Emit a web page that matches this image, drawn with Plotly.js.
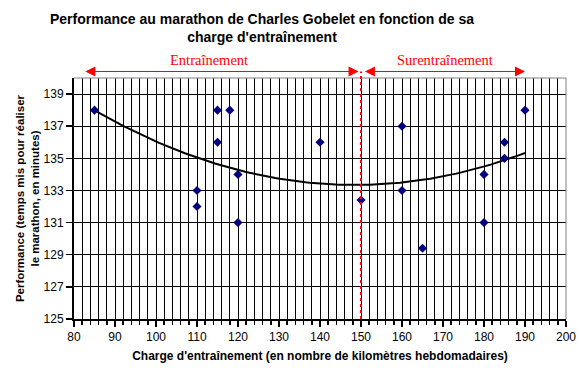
<!DOCTYPE html>
<html>
<head>
<meta charset="utf-8">
<script src="https://cdn.plot.ly/plotly-3.0.1.min.js"></script>
<style>html,body{margin:0;padding:0;background:#fff;}#chart{width:581px;height:377px;}</style>
</head>
<body>
<div id="chart"></div>
<script>
// Data
const chargeKm = [85, 110, 110, 115, 115, 118, 120, 120, 140, 150, 160, 160, 165, 180, 180, 185, 185, 190];
const performanceMin = [138, 133, 132, 138, 136, 138, 134, 131, 136, 132.4, 137, 133, 129.4, 134, 131, 136, 135, 138];
const xTickValues = [80, 90, 100, 110, 120, 130, 140, 150, 160, 170, 180, 190, 200];
const yTickValues = [125, 127, 129, 131, 133, 135, 137, 139];
const seuilKm = 150;
const zoneLabels = ["Entraînement", "Surentraînement"];
const chartTitle = "Performance au marathon de Charles Gobelet en fonction de sa<br>charge d'entraînement";

// Polynomial (order 2) least-squares trendline computed from the data
function quadFit(xs, ys) {
  let s = [0,0,0,0,0], t = [0,0,0];
  for (let i = 0; i < xs.length; i++) {
    let p = 1;
    for (let k = 0; k < 5; k++) { s[k] += p; if (k < 3) t[k] += p * ys[i]; p *= xs[i]; }
  }
  const A = [[s[0],s[1],s[2],t[0]],[s[1],s[2],s[3],t[1]],[s[2],s[3],s[4],t[2]]];
  for (let c = 0; c < 3; c++) {
    for (let r = c + 1; r < 3; r++) {
      const f = A[r][c] / A[c][c];
      for (let k = c; k < 4; k++) A[r][k] -= f * A[c][k];
    }
  }
  const b = [0,0,0];
  for (let r = 2; r >= 0; r--) {
    let v = A[r][3];
    for (let k = r + 1; k < 3; k++) v -= A[r][k] * b[k];
    b[r] = v / A[r][r];
  }
  return b;
}
const coef = quadFit(chargeKm, performanceMin);
const xMin = Math.min(...chargeKm), xMax = Math.max(...chargeKm);
const trendX = [], trendY = [];
for (let i = 0; i <= 100; i++) {
  const x = xMin + (xMax - xMin) * i / 100;
  trendX.push(x);
  trendY.push(coef[0] + coef[1] * x + coef[2] * x * x);
}

const traces = [
  {x: trendX, y: trendY, mode: 'lines', line: {color: '#000000', width: 2}, hoverinfo: 'skip', cliponaxis: false},
  {x: chargeKm, y: performanceMin, mode: 'markers', marker: {symbol: 'diamond', color: '#000080', size: 7}, cliponaxis: false}
];

const red = '#ff0000';
const arrowY = 1.027;
const layout = {
  width: 581, height: 377,
  margin: {l: 74, r: 15, t: 78, b: 58},
  paper_bgcolor: '#ffffff', plot_bgcolor: '#ffffff',
  showlegend: false,
  font: {family: 'Liberation Sans, Arial, sans-serif', color: '#000000', size: 12},
  xaxis: {
    range: [80, 200], tickvals: xTickValues, ticktext: xTickValues.map(String),
    showgrid: true, gridcolor: '#000000', gridwidth: 1,
    showline: true, linecolor: '#000000', linewidth: 2,
    ticks: 'outside', ticklen: 6, tickcolor: '#000', tickwidth: 1.5,
    minor: {dtick: 2, tick0: 80, showgrid: true, gridcolor: '#000000', gridwidth: 1, ticks: 'outside', ticklen: 4, tickcolor: '#000'},
    zeroline: false, fixedrange: true,
    tickfont: {size: 12},
    title: {text: "<b>Charge d'entraînement (en nombre de kilomètres hebdomadaires)</b>", font: {size: 12}, standoff: 8}
  },
  yaxis: {
    range: [125, 140], tickvals: yTickValues, ticktext: yTickValues.map(String),
    showgrid: true, gridcolor: '#000000', gridwidth: 1,
    showline: true, linecolor: '#000000', linewidth: 2,
    ticks: 'outside', ticklen: 6, tickcolor: '#000', tickwidth: 1.5,
    zeroline: false, fixedrange: true,
    tickfont: {size: 12},
    title: {text: "<b>Performance (temps mis pour réaliser<br>le marathon, en minutes)</b>", font: {size: 11.5}, standoff: 2}
  },
  shapes: [
    {type: 'line', xref: 'paper', yref: 'paper', x0: 0, x1: 1, y0: 1, y1: 1, line: {color: '#808080', width: 1}, layer: 'above'},
    {type: 'line', xref: 'paper', yref: 'paper', x0: 1, x1: 1, y0: 0, y1: 1, line: {color: '#808080', width: 1}, layer: 'above'},
    {type: 'line', xref: 'x', yref: 'paper', x0: seuilKm, x1: seuilKm, y0: 0, y1: arrowY, line: {color: red, width: 2, dash: 'dot'}, layer: 'above'}
  ],
  annotations: [
    {x: 0.382, y: 1.207, xref: 'paper', yref: 'paper', xanchor: 'center', yanchor: 'middle', text: '<b>' + chartTitle + '</b>', showarrow: false,
     font: {size: 14, family: 'Liberation Sans, Arial, sans-serif', color: '#000'}},
    {x: 149.4, y: arrowY, xref: 'x', yref: 'paper', ax: 82.4, ay: 0, axref: 'x', ayref: 'pixel', text: '', showarrow: true,
     arrowhead: 2, startarrowhead: 2, arrowside: 'end+start', arrowsize: 2, startarrowsize: 2, arrowwidth: 1, arrowcolor: red},
    {x: 190, y: arrowY, xref: 'x', yref: 'paper', ax: 150.6, ay: 0, axref: 'x', ayref: 'pixel', text: '', showarrow: true,
     arrowhead: 2, startarrowhead: 2, arrowside: 'end+start', arrowsize: 2, startarrowsize: 2, arrowwidth: 1, arrowcolor: red},
    {x: 113, y: 1.075, xref: 'x', yref: 'paper', text: zoneLabels[0], showarrow: false,
     font: {family: 'Liberation Serif, Times New Roman, serif', size: 14.5, color: red}, yanchor: 'middle'},
    {x: 170.4, y: 1.075, xref: 'x', yref: 'paper', text: zoneLabels[1], showarrow: false,
     font: {family: 'Liberation Serif, Times New Roman, serif', size: 14.5, color: red}, yanchor: 'middle'}
  ]
};

Plotly.newPlot('chart', traces, layout, {displayModeBar: false, staticPlot: true});
</script>
</body>
</html>
